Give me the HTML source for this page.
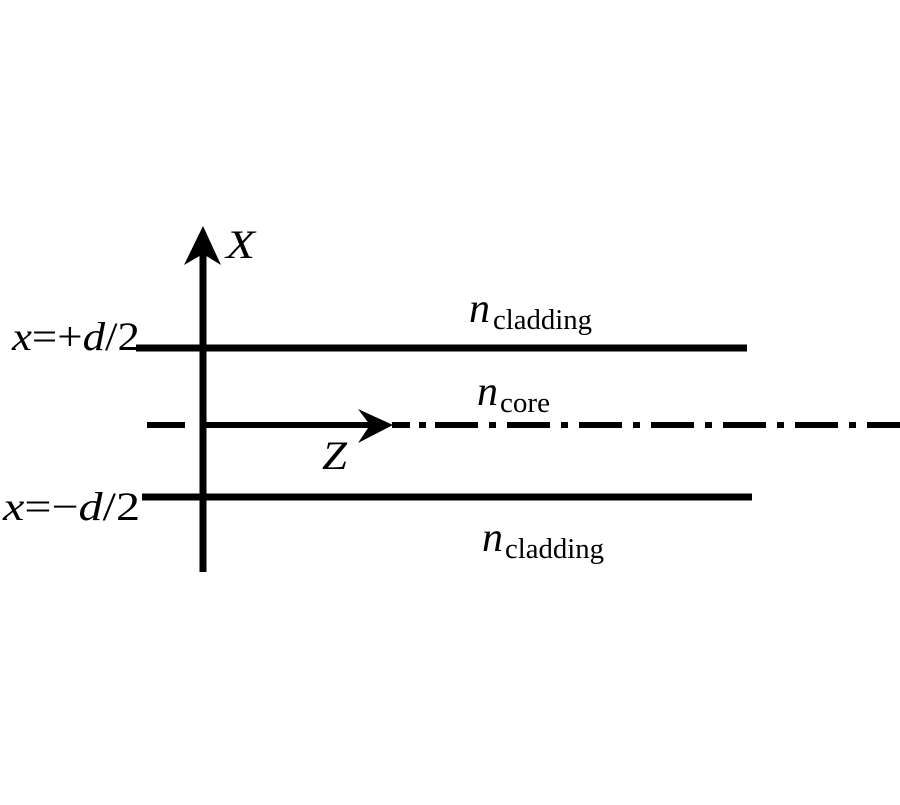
<!DOCTYPE html>
<html><head><meta charset="utf-8"><style>body{margin:0;background:#fff}</style></head>
<body>
<svg width="900" height="800" viewBox="0 0 900 800" xmlns="http://www.w3.org/2000/svg" style="font-family:'Liberation Serif',serif">
<rect width="900" height="800" fill="#fff"/>
<line x1="203" y1="572" x2="203" y2="250" stroke="#000" stroke-width="7"/>
<polygon points="203,226 184,265 203,254 221,265" fill="#000"/>
<line x1="136" y1="348" x2="747" y2="348" stroke="#000" stroke-width="7"/>
<line x1="142" y1="497" x2="752" y2="497" stroke="#000" stroke-width="7"/>
<line x1="147" y1="425" x2="185" y2="425" stroke="#000" stroke-width="6"/>
<line x1="206" y1="425" x2="380" y2="425" stroke="#000" stroke-width="6"/>
<polygon points="393,425 358,409 370,425 358,443" fill="#000"/>
<line x1="392" y1="425" x2="900" y2="425" stroke="#000" stroke-width="6" stroke-dasharray="18 9 7 9 43 11 7 11 43 11 7 11 43 11 7 11 43 11 7 11 43 11 7 11 43 11 7 11 43 11 7 11 43 11"/>
<text x="226" y="258" font-size="40" font-style="italic" textLength="29" lengthAdjust="spacingAndGlyphs">X</text>
<text x="12" y="350" font-size="40" textLength="128" lengthAdjust="spacingAndGlyphs"><tspan font-style="italic">x</tspan>=+<tspan font-style="italic">d</tspan>/2</text>
<text x="3" y="520" font-size="40" textLength="137" lengthAdjust="spacingAndGlyphs"><tspan font-style="italic">x</tspan>=−<tspan font-style="italic">d</tspan>/2</text>
<text x="322" y="469" font-size="40" font-style="italic" textLength="25" lengthAdjust="spacingAndGlyphs">Z</text>
<text x="469" y="322" font-size="42" font-style="italic">n</text><text x="493" y="329" font-size="28" textLength="99" lengthAdjust="spacingAndGlyphs">cladding</text>
<text x="477" y="405" font-size="42" font-style="italic">n</text><text x="500" y="412" font-size="28" textLength="50" lengthAdjust="spacingAndGlyphs">core</text>
<text x="482" y="551" font-size="42" font-style="italic">n</text><text x="505" y="558" font-size="28" textLength="99" lengthAdjust="spacingAndGlyphs">cladding</text>
</svg>
</body></html>
